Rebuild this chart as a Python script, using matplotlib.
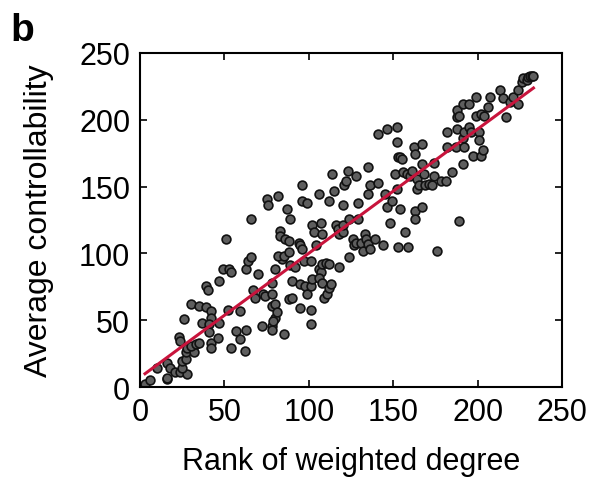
import numpy as np
import matplotlib
matplotlib.use("Agg")
import matplotlib.pyplot as plt

plt.rcParams['font.family'] = ['Liberation Sans', 'DejaVu Sans']

rank_wdeg = [3, 6, 10, 16, 16, 16, 18, 21, 24, 28, 25, 25, 27, 23, 24, 27, 28, 32, 30, 33,
             35, 26, 30, 35, 39, 40, 39, 37, 42, 42, 41, 41, 42, 42, 46, 47, 47, 49, 53, 54,
             51, 52, 54, 57, 59, 59, 62, 63, 63, 64, 66, 66, 67, 70, 68, 72, 73, 74, 78, 78,
             78, 78, 75, 76, 80, 82, 80, 83, 83, 84, 82, 85, 86, 88, 87, 89, 88, 90, 89, 88,
             90, 92, 94, 95, 95, 96, 96, 95, 96, 97, 99, 98, 99, 80, 81, 79, 85, 78, 101, 101,
             102, 101, 101, 102, 103, 104, 106, 107, 108, 106, 107, 108, 110, 112, 106, 108, 109, 111, 112, 113,
             112, 114, 115, 116, 117, 118, 118, 120, 120, 120, 121, 122, 123, 124, 124, 128, 129, 129, 126, 127,
             128, 131, 132, 133, 134, 135, 136, 139, 136, 135, 135, 141, 144, 145, 146, 149, 148, 141, 146, 152,
             152, 153, 154, 155, 151, 152, 154, 153, 159, 157, 156, 158, 160, 161, 162, 163, 167, 164, 164, 163,
             163, 167, 165, 167, 169, 168, 171, 173, 174, 174, 176, 178, 181, 185, 182, 182, 188, 189, 187, 188,
             188, 189, 191, 191, 192, 195, 196, 192, 191, 197, 195, 199, 199, 201, 201, 202, 203, 202, 204, 206,
             207, 213, 215, 217, 219, 221, 224, 224, 226, 227, 229, 230, 231, 232, 233]
avg_ctrl = [2, 5, 14.5, 6, 7, 18, 14.5, 11, 11, 10, 14.5, 19.5, 21, 37.5, 34.5, 26, 29.5, 26, 31, 32,
            33, 51, 62, 61, 76, 73, 60, 48, 57, 52, 47, 41, 33, 29.5, 37, 48, 79.5, 88, 88, 86,
            111, 58, 29.5, 42, 36, 57, 27, 43, 88, 94.5, 97, 126, 73, 84.5, 67, 46, 69.5, 68, 69.5, 78,
            46, 61, 141, 136, 88, 143, 62, 117, 113, 96, 98, 98, 111, 109.5, 133, 126, 101, 79.5, 91, 66,
            67, 89.5, 108, 106, 59.5, 151, 139.5, 77, 103, 94.5, 138, 76, 69.5, 52, 56, 49.5, 39.5, 43, 94.5, 76,
            81, 58, 47.5, 121, 116, 106, 144.5, 123, 114.5, 88, 86, 92, 93, 92, 82, 78, 67, 69.5, 74.5, 77,
            139.5, 159.5, 147, 121, 118, 114.5, 90, 116, 121, 136, 151, 154.5, 162, 126, 97, 158, 138, 126, 111, 106,
            108, 108, 102, 114.5, 111, 107, 103, 111, 151, 144.5, 164.5, 153, 106, 144.5, 134.5, 139.5, 123, 189.5, 193, 194.5,
            183, 172, 172, 171, 159.5, 148, 133, 104.5, 104.5, 116, 161, 159.5, 158, 162, 179.5, 174.5, 182, 156, 148, 132,
            126, 134.5, 151, 167, 151, 159.5, 152, 151, 158, 168, 102, 154.5, 154.5, 161, 179.5, 191, 193, 124.5, 179.5, 202,
            207, 203, 212, 186, 191, 194.5, 191, 179.5, 167, 173, 212, 217, 203, 191, 184.5, 173, 177, 204.5, 203, 209.5,
            217, 222, 216, 202, 213, 217, 212, 222, 228, 231, 229.5, 232, 233, 233, 233]

x_ticks = [0, 50, 100, 150, 200, 250]
y_ticks = [0, 50, 100, 150, 200, 250]

x = np.array(rank_wdeg, dtype=float)
y = np.array(avg_ctrl, dtype=float)

fig = plt.figure(figsize=(5.93, 4.81), dpi=100)
ax = fig.add_axes([0.236, 0.193, 0.712, 0.695])

ax.scatter(x, y, s=40, facecolor='#5e5e5e', edgecolor='#111111', linewidths=1.2, zorder=2)

k, b = np.polyfit(x, y, 1)
xl = np.array([x.min(), x.max()])
ax.plot(xl, k * xl + b, color='#c8143c', lw=2.2, zorder=3)

ax.set_xlim(0, 250)
ax.set_ylim(0, 250)
ax.set_xticks(x_ticks)
ax.set_yticks(y_ticks)
ax.tick_params(direction='in', length=5, width=1.2, top=True, right=True,
               labelsize=22, pad=7)
for sp in ax.spines.values():
    sp.set_linewidth(1.5)

ax.set_xlabel('Rank of weighted degree', fontsize=22, labelpad=14)
ax.set_ylabel('Average controllability', fontsize=23, labelpad=18)

fig.text(0.018, 0.915, 'b', fontsize=28, fontweight='bold')

fig.savefig('out.png', dpi=100)
